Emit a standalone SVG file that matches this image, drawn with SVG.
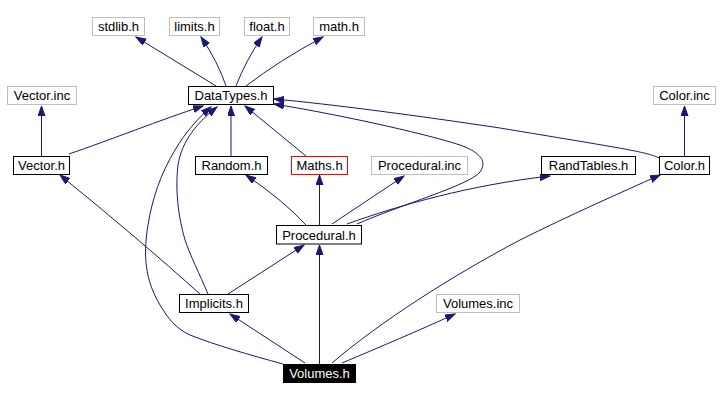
<svg xmlns="http://www.w3.org/2000/svg" width="720" height="401" viewBox="0 0 720 401">
<style>
rect{fill:#fff;stroke-width:1}
.n rect{stroke:#000}
.g rect{stroke:#bfbfbf}
.r rect{stroke:#f00}
.b rect{fill:#000;stroke:#000}
text{font-family:"Liberation Sans",Arial,sans-serif;font-size:13px;text-anchor:middle;fill:#000}
.b text{fill:#fff}
#edges path{fill:none;stroke:#191970;stroke-width:1;marker-end:url(#arr)}
</style>
<defs>
<marker id="arr" markerUnits="userSpaceOnUse" markerWidth="11" markerHeight="8" refX="10" refY="3.5" orient="auto">
<path d="M0,0 L10,3.5 L0,7 z" fill="#191970" stroke="#191970" stroke-width="1"/>
</marker>
</defs>
<rect x="0" y="0" width="720" height="401" style="fill:#fff;stroke:none"/>
<g id="edges">
<path d="M216,86 L136,37"/>
<path d="M226,86 Q218,62 201,37"/>
<path d="M236,86 Q246,60 262,37"/>
<path d="M246,86 Q280,60 323,37"/>
<path d="M41.5,156 L41.5,106"/>
<path d="M69,154 C110,140 160,120 203,106"/>
<path d="M231,156 L231,106"/>
<path d="M306,156 L245,106"/>
<path d="M659,158 C648,152 620,148 500,128 C420,116 330,104 274,99"/>
<path d="M357,224 C400,205 470,185 480,172 C487,162 482,153 460,145 C420,132 330,113 274,104"/>
<path d="M208,294 C200,275 190,255 185,240 C178,215 175,190 178,165 C182,140 198,122 217,107"/>
<path d="M283,364 C250,355 215,345 190,335 C175,328 168,318 160,305 C145,280 143,255 148,225 C152,200 160,175 175,150 C185,133 198,118 211,107"/>
<path d="M684.5,156 L684.5,106"/>
<path d="M306,225 Q284,201 246,175"/>
<path d="M319.5,225 L319.5,175"/>
<path d="M332,224 L404,176"/>
<path d="M347,224 C400,205 470,185 550,176"/>
<path d="M200,294 Q140,240 60,175"/>
<path d="M228,294 L304,245"/>
<path d="M305,363 L230,314"/>
<path d="M319.5,364 L319.5,245"/>
<path d="M332,363 C380,322 450,277 520,240 C570,215 620,193 660,175"/>
<path d="M342,363 C380,347 420,330 455,314"/>
</g>
<g id="stdlib" class="g"><rect x="92.5" y="17.5" width="52" height="18"/><text x="118.5" y="31">stdlib.h</text></g>
<g id="limits" class="g"><rect x="169.5" y="17.5" width="50" height="18"/><text x="194.5" y="31">limits.h</text></g>
<g id="float" class="g"><rect x="244.5" y="17.5" width="45" height="18"/><text x="267" y="31">float.h</text></g>
<g id="math" class="g"><rect x="313.5" y="17.5" width="51" height="18"/><text x="339" y="31">math.h</text></g>
<g id="vectorinc" class="g"><rect x="7.5" y="86.5" width="69" height="18"/><text x="42" y="100">Vector.inc</text></g>
<g id="datatypes" class="n"><rect x="188.5" y="86.5" width="85" height="18"/><text x="231" y="100">DataTypes.h</text></g>
<g id="colorinc" class="g"><rect x="653.5" y="86.5" width="62" height="18"/><text x="684.5" y="100">Color.inc</text></g>
<g id="vector" class="n"><rect x="13.5" y="156.5" width="56" height="18"/><text x="41.5" y="170">Vector.h</text></g>
<g id="random" class="n"><rect x="195.5" y="156.5" width="72" height="18"/><text x="231.5" y="170">Random.h</text></g>
<g id="maths" class="r"><rect x="291.5" y="156.5" width="56" height="18"/><text x="319.5" y="170">Maths.h</text></g>
<g id="proceduralinc" class="g"><rect x="371.5" y="156.5" width="96" height="18"/><text x="419.5" y="170">Procedural.inc</text></g>
<g id="randtables" class="n"><rect x="541.5" y="156.5" width="94" height="18"/><text x="588.5" y="170">RandTables.h</text></g>
<g id="color" class="n"><rect x="659.5" y="156.5" width="50" height="18"/><text x="684.5" y="170">Color.h</text></g>
<g id="procedural" class="n"><rect x="276.5" y="225.5" width="85" height="18.5"/><text x="319" y="239.5">Procedural.h</text></g>
<g id="implicits" class="n"><rect x="179.5" y="294.5" width="69" height="18"/><text x="214" y="308">Implicits.h</text></g>
<g id="volumesinc" class="g"><rect x="436.5" y="294.5" width="83" height="18"/><text x="478" y="308">Volumes.inc</text></g>
<g id="volumes" class="b"><rect x="283.5" y="364.5" width="72" height="18"/><text x="319.5" y="378">Volumes.h</text></g>
</svg>
